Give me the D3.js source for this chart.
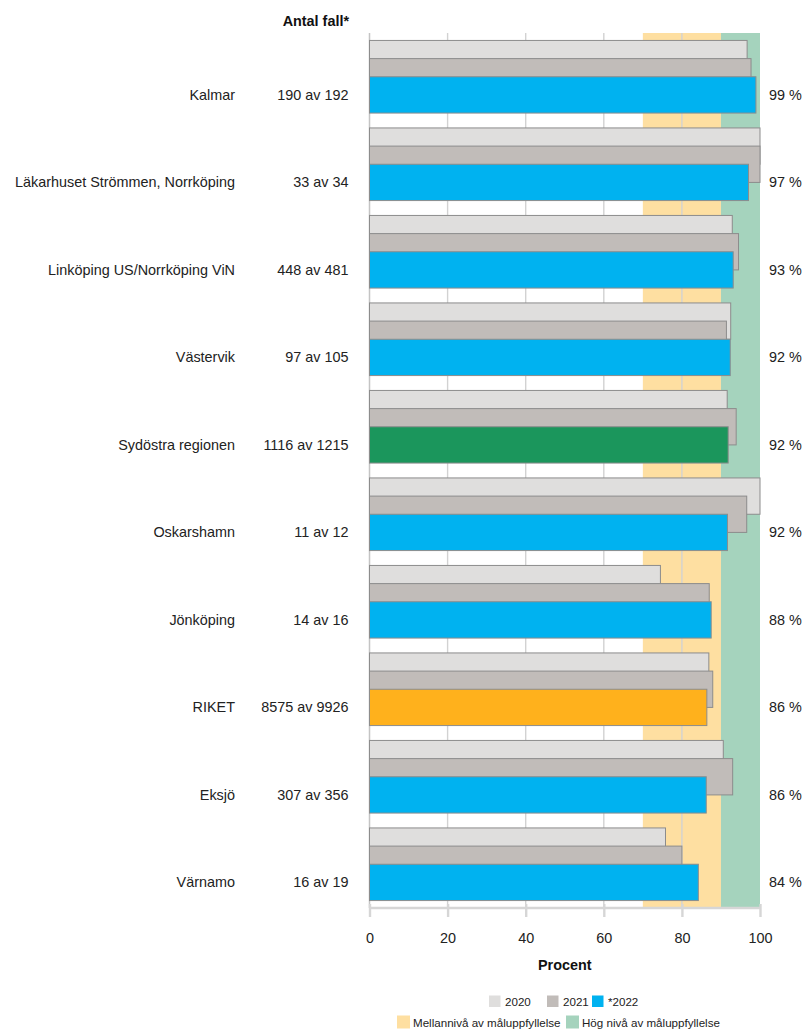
<!DOCTYPE html>
<html>
<head>
<meta charset="utf-8">
<script src="https://cdn.jsdelivr.net/npm/d3@7/dist/d3.min.js"></script>
<style>
  html, body { margin: 0; padding: 0; background: #fff; }
  svg { display: block; font-family: "Liberation Sans", Arial, sans-serif; }
</style>
</head>
<body>
<div id="chart"></div>
<script>
// Units, in display order
const units = [
  "Kalmar",
  "Läkarhuset Strömmen, Norrköping",
  "Linköping US/Norrköping ViN",
  "Västervik",
  "Sydöstra regionen",
  "Oskarshamn",
  "Jönköping",
  "RIKET",
  "Eksjö",
  "Värnamo"
];

// Share (%) for previous years
const values2020 = [96.7, 100, 92.9, 92.5, 91.6, 100, 74.5, 86.9, 90.6, 75.8];
const values2021 = [97.7, 100, 94.5, 91.4, 93.9, 96.6, 87.0, 87.9, 93.0, 80.0];

// Cases for 2022: numerator and denominator
const cases2022 = [190, 33, 448, 97, 1116, 11, 14, 8575, 307, 16];
const totals2022 = [192, 34, 481, 105, 1215, 12, 16, 9926, 356, 19];

const xTicks = [0, 20, 40, 60, 80, 100];

// Target level bands
const bands = [
  { from: 70, to: 90, color: "#fedfa1", label: "Mellannivå av måluppfyllelse" },
  { from: 90, to: 100, color: "#a5d3bd", label: "Hög nivå av måluppfyllelse" }
];

const seriesLabels = ["2020", "2021", "*2022"];
const seriesColors = ["#dfdedd", "#c1bcb9", "#00b2f0"];
const highlightColors = { "Sydöstra regionen": "#1b965c", "RIKET": "#ffb11c" };

const values2022 = cases2022.map((n, i) => n / totals2022[i] * 100);

const W = 806, H = 1030;
const plotLeft = 369.5, plotRight = 760, plotTop = 33, plotBottom = 908;
const fontSize = 14.4;

const svg = d3.select("#chart").append("svg")
  .attr("width", W).attr("height", H);

const x = d3.scaleLinear().domain([0, 100]).range([plotLeft, plotRight]);
const y = d3.scaleBand().domain(units).range([plotTop, plotBottom])
  .paddingInner(0.17).paddingOuter(0.085);
const bw = y.bandwidth();
const barH = bw / 2;

// Bands
svg.append("g").selectAll("rect").data(bands).join("rect")
  .attr("x", d => x(d.from)).attr("width", d => x(d.to) - x(d.from))
  .attr("y", plotTop).attr("height", plotBottom - plotTop)
  .attr("fill", d => d.color);

// Vertical grid
svg.append("g").selectAll("line").data(xTicks.slice(1, -1)).join("line")
  .attr("x1", d => x(d)).attr("x2", d => x(d))
  .attr("y1", plotTop).attr("y2", plotBottom)
  .attr("stroke", "#d2d2d2").attr("stroke-width", 1.4);
svg.append("line")
  .attr("x1", x(0)).attr("x2", x(0)).attr("y1", plotTop).attr("y2", plotBottom)
  .attr("stroke", "#c4c4c4").attr("stroke-width", 1.5);

// Bars: each year offset by half a bar, later years drawn on top
const rows = units.map((u, i) => ({
  unit: u,
  vals: [values2020[i], values2021[i], values2022[i]]
}));

const gBars = svg.append("g");
[0, 1, 2].forEach(s => {
  gBars.append("g").selectAll("rect").data(rows).join("rect")
    .attr("x", x(0))
    .attr("y", d => y(d.unit) + s * barH / 2)
    .attr("width", d => x(d.vals[s]) - x(0))
    .attr("height", barH)
    .attr("fill", d => s === 2 && highlightColors[d.unit] ? highlightColors[d.unit] : seriesColors[s])
    .attr("stroke", "#8c8c8c").attr("stroke-width", 1);
});

// Bottom axis
const axis = svg.append("g").attr("transform", `translate(0,${plotBottom})`)
  .call(d3.axisBottom(x).tickValues(xTicks).tickSize(9).tickPadding(16));
axis.select(".domain").attr("stroke", "#d6d6d6").attr("stroke-width", 2.4)
  .attr("d", `M${x(0)},0H${x(100)}`);
axis.selectAll(".tick line").attr("stroke", "#d6d6d6").attr("stroke-width", 2.4)
  .attr("y1", -4);
axis.selectAll(".tick text")
  .attr("font-size", fontSize).attr("fill", "#222")
  .attr("font-family", "Liberation Sans, Arial, sans-serif");

svg.append("text").attr("x", (x(0) + x(100)) / 2).attr("y", 970)
  .attr("text-anchor", "middle").attr("font-size", fontSize)
  .attr("font-weight", "bold").attr("fill", "#111").text("Procent");

// Row labels
const labelY = d => y(d.unit) + bw * 0.75 + 4.6;
svg.append("g").selectAll("text").data(rows).join("text")
  .attr("x", 235).attr("y", labelY).attr("text-anchor", "end")
  .attr("font-size", fontSize).attr("fill", "#222").text(d => d.unit);

svg.append("text").attr("x", 349).attr("y", 26).attr("text-anchor", "end")
  .attr("font-size", fontSize).attr("font-weight", "bold").attr("fill", "#111")
  .text("Antal fall*");

svg.append("g").selectAll("text").data(rows).join("text")
  .attr("x", 348.5).attr("y", labelY).attr("text-anchor", "end")
  .attr("font-size", fontSize).attr("fill", "#222")
  .text((d, i) => `${cases2022[i]} av ${totals2022[i]}`);

svg.append("g").selectAll("text").data(rows).join("text")
  .attr("x", 769).attr("y", labelY).attr("text-anchor", "start")
  .attr("font-size", fontSize).attr("fill", "#222")
  .text(d => `${Math.round(d.vals[2])} %`);

// Legend
const legendFont = 11.6;
const leg1 = [
  { x: 489, label: seriesLabels[0], color: seriesColors[0] },
  { x: 547, label: seriesLabels[1], color: seriesColors[1] },
  { x: 592, label: seriesLabels[2], color: seriesColors[2] }
];
const g1 = svg.append("g").selectAll("g").data(leg1).join("g");
g1.append("rect").attr("x", d => d.x).attr("y", 995.5).attr("width", 11.5).attr("height", 11.5)
  .attr("fill", d => d.color);
g1.append("text").attr("x", d => d.x + 16).attr("y", 1006).attr("font-size", legendFont)
  .attr("fill", "#222").text(d => d.label);

const leg2 = [
  { x: 397, band: bands[0] },
  { x: 566, band: bands[1] }
];
const g2 = svg.append("g").selectAll("g").data(leg2).join("g");
g2.append("rect").attr("x", d => d.x).attr("y", 1015.5).attr("width", 13).attr("height", 13)
  .attr("fill", d => d.band.color);
g2.append("text").attr("x", d => d.x + 16).attr("y", 1026.5).attr("font-size", legendFont)
  .attr("fill", "#222").text(d => d.band.label);
</script>
</body>
</html>
